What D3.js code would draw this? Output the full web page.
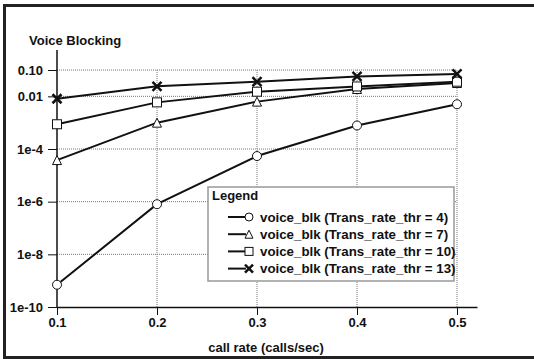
<!DOCTYPE html>
<html>
<head>
<meta charset="utf-8">
<script src="https://cdn.jsdelivr.net/npm/d3@7"></script>
<style>
  body { margin: 0; background: #fff; }
  svg { display: block; font-family: "Liberation Sans", Arial, sans-serif; font-weight: bold; }
  .grid line { stroke: #777; stroke-width: 1; stroke-dasharray: 1,1; }
  .tick-label { font-size: 13px; fill: #111; }
</style>
</head>
<body>
<svg width="534" height="359"></svg>
<script>
// call rates on the x axis
const callRates = [0.1, 0.2, 0.3, 0.4, 0.5];

// blocking probability per threshold
const blkThr4 = [7e-10, 8e-7, 5.4e-5, 7.8e-4, 5e-3];
const blkThr7 = [3.8e-5, 1e-3, 6.3e-3, 0.019, 0.032];
const blkThr10 = [8.7e-4, 5.9e-3, 0.015, 0.0237, 0.036];
const blkThr13 = [8.1e-3, 0.024, 0.036, 0.057, 0.071];

const seriesNames = [
    'voice_blk (Trans_rate_thr = 4)',
    'voice_blk (Trans_rate_thr = 7)',
    'voice_blk (Trans_rate_thr = 10)',
    'voice_blk (Trans_rate_thr = 13)'
];
const seriesMarkers = ['circle', 'triangle', 'square', 'cross'];

const yTickValues = [1e-10, 1e-8, 1e-6, 1e-4, 0.01, 0.1];
const yTickLabels = ['1e-10', '1e-8', '1e-6', '1e-4', '0.01', '0.10'];
const xTickLabels = ['0.1', '0.2', '0.3', '0.4', '0.5'];

const series = [blkThr4, blkThr7, blkThr10, blkThr13].map((vals, i) => ({
    name: seriesNames[i],
    marker: seriesMarkers[i],
    points: vals.map((v, j) => ({ x: callRates[j], y: v }))
}));

const svg = d3.select('svg');

// outer frame (no right edge visible in the picture)
svg.append('path')
    .attr('d', 'M540,5.5 H4.5 V357.5 H540')
    .attr('fill', 'none')
    .attr('stroke', '#222')
    .attr('stroke-width', 3);

const x = d3.scaleLinear().domain([0.1, 0.52]).range([57, 477]);
const y = d3.scaleLog().domain([1e-10, 0.1]).range([307, 70]);

// grid
const grid = svg.append('g').attr('class', 'grid');
grid.selectAll('.h').data(yTickValues.slice(1)).enter().append('line')
    .attr('x1', x(0.1)).attr('x2', x(0.5))
    .attr('y1', d => y(d)).attr('y2', d => y(d));
grid.selectAll('.v').data(callRates.slice(1)).enter().append('line')
    .attr('x1', d => x(d)).attr('x2', d => x(d))
    .attr('y1', y(0.1)).attr('y2', y(1e-10));

// axes
const xAxis = d3.axisBottom(x)
    .tickValues(callRates)
    .tickFormat((d, i) => xTickLabels[i])
    .tickSize(8)
    .tickSizeOuter(0)
    .tickPadding(3);
const gx = svg.append('g').attr('transform', `translate(0,${y(1e-10)})`).call(xAxis);
gx.select('.domain').attr('stroke', '#111').attr('stroke-width', 1.5);
gx.selectAll('.tick line').attr('stroke', '#111');
gx.selectAll('text').attr('class', 'tick-label').attr('font-family', null).attr('font-size', null);

const yAxis = d3.axisLeft(y)
    .tickValues(yTickValues)
    .tickFormat((d, i) => yTickLabels[i])
    .tickSize(9)
    .tickPadding(5);
const gy = svg.append('g').attr('transform', `translate(${x(0.1)},0)`).call(yAxis);
gy.select('.domain').remove();
gy.selectAll('.tick line').attr('stroke', '#111');
gy.selectAll('text').attr('class', 'tick-label').attr('font-family', null).attr('font-size', null);
svg.append('line')
    .attr('x1', x(0.1)).attr('x2', x(0.1))
    .attr('y1', 50).attr('y2', y(1e-10))
    .attr('stroke', '#111').attr('stroke-width', 1.5);

// titles
svg.append('text')
    .attr('x', 29).attr('y', 45)
    .attr('font-size', 13)
    .attr('fill', '#111')
    .text('Voice Blocking');
svg.append('text')
    .attr('x', 266).attr('y', 352)
    .attr('text-anchor', 'middle')
    .attr('font-size', 13)
    .attr('fill', '#111')
    .text('call rate (calls/sec)');

// marker drawing
const drawMarker = (g, type, size) => {
    const s = size;
    if (type === 'circle') {
        g.append('circle').attr('r', s / 2)
            .attr('fill', '#fff').attr('stroke', '#111').attr('stroke-width', 1);
    } else if (type === 'triangle') {
        g.append('path').attr('d', `M0,${-s / 2} L${s / 2},${s / 2} L${-s / 2},${s / 2} Z`)
            .attr('fill', '#fff').attr('stroke', '#111').attr('stroke-width', 1);
    } else if (type === 'square') {
        g.append('rect').attr('x', -s / 2).attr('y', -s / 2).attr('width', s).attr('height', s)
            .attr('fill', '#fff').attr('stroke', '#111').attr('stroke-width', 1);
    } else {
        const h = s / 2;
        g.append('path').attr('d', `M${-h},${-h} L${h},${h} M${-h},${h} L${h},${-h}`)
            .attr('stroke', '#111').attr('stroke-width', 2.5);
    }
};

const line = d3.line().x(d => x(d.x)).y(d => y(d.y));

series.forEach(s => {
    svg.append('path')
        .datum(s.points)
        .attr('d', line)
        .attr('fill', 'none')
        .attr('stroke', '#111')
        .attr('stroke-width', 2);
});
series.forEach(s => {
    s.points.forEach(p => {
        const g = svg.append('g').attr('transform', `translate(${x(p.x)},${y(p.y)})`);
        drawMarker(g, s.marker, 9);
    });
});

// legend
const legend = svg.append('g').attr('transform', 'translate(208,187)');
legend.append('rect')
    .attr('width', 246).attr('height', 94)
    .attr('fill', '#fff')
    .attr('stroke', '#999')
    .attr('stroke-width', 1.5);
legend.append('text')
    .attr('x', 4).attr('y', 13)
    .attr('font-size', 13)
    .attr('fill', '#111')
    .text('Legend');
const item = legend.selectAll('.item').data(series).enter().append('g')
    .attr('transform', (d, i) => `translate(0,${30 + i * 17.2})`);
item.append('line')
    .attr('x1', 20).attr('x2', 38)
    .attr('stroke', '#111').attr('stroke-width', 2);
item.each(function (d) {
    drawMarker(d3.select(this).append('g').attr('transform', 'translate(41,0)'), d.marker, 8);
});
item.append('text')
    .attr('x', 52).attr('y', 4.5)
    .attr('font-size', 13.3)
    .attr('fill', '#111')
    .text(d => d.name);
</script>
</body>
</html>
